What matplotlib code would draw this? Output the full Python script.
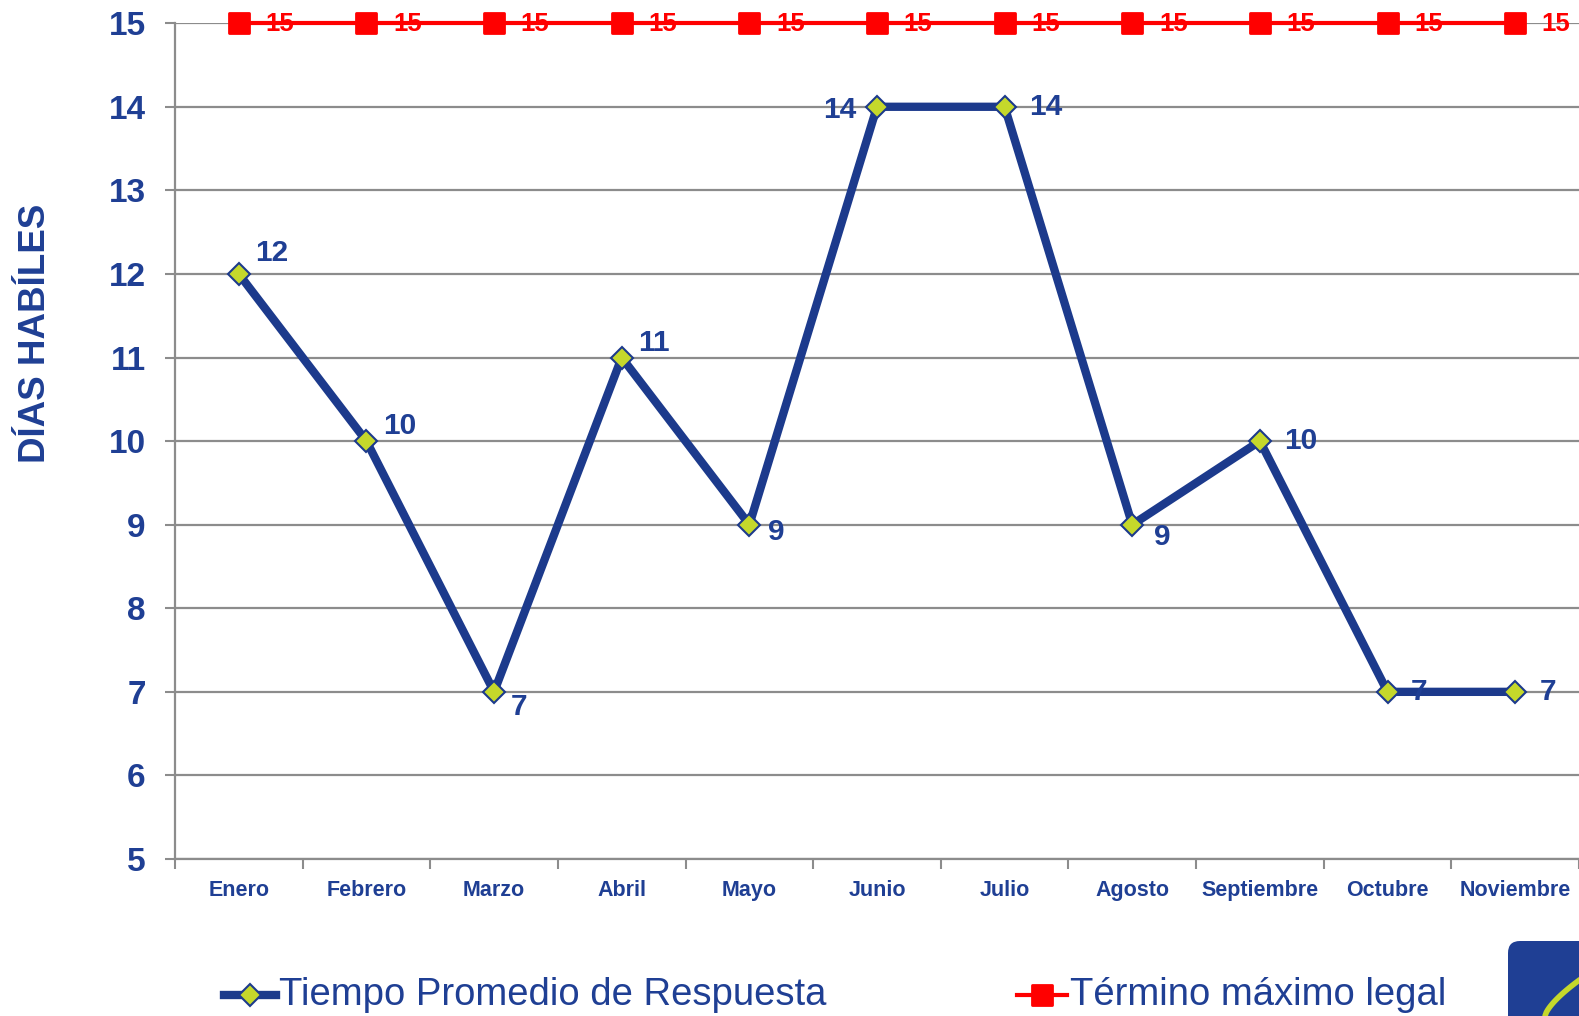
import numpy as np
import matplotlib
matplotlib.use("Agg")
import matplotlib.pyplot as plt
from matplotlib.lines import Line2D
from matplotlib.markers import MarkerStyle
from matplotlib.patches import FancyBboxPatch
from matplotlib.transforms import IdentityTransform

#### data
meses = ["Enero", "Febrero", "Marzo", "Abril", "Mayo", "Junio", "Julio",
         "Agosto", "Septiembre", "Octubre", "Noviembre"]
tiempo_promedio = [12, 10, 7, 11, 9, 14, 14, 9, 10, 7, 7]
termino_legal = [15, 15, 15, 15, 15, 15, 15, 15, 15, 15, 15]
yticks = [5, 6, 7, 8, 9, 10, 11, 12, 13, 14, 15]

# label offsets in pixels (dx, dy) for the blue series
lbl_off = [(33, 21), (33, 15), (25, -15), (32, 15), (27, -7), (-37, -3),
           (41, 0), (30, -12), (41, 0), (32, 0), (33, 0)]

BLUE = "#1F3F94"
LINE_BLUE = "#1C3A8C"
GREEN = "#C5D82B"
RED = "#FF0000"
GRAY = "#8C8C8C"

plt.rcParams['font.family'] = ["Liberation Sans", "DejaVu Sans"]

W, H = 1579, 1016
fig = plt.figure(figsize=(W/100, H/100), dpi=100)
fig.patch.set_facecolor("white")
ax = fig.add_axes([175/W, 1 - 859/H, 1 - 175/W, (859 - 23.2)/H])

x = np.arange(len(meses))

# red legal line
sq = MarkerStyle("s", joinstyle="round")
ax.plot(x, termino_legal, color=RED, lw=3, marker=sq, ms=14.5, mfc=RED, mec=RED,
        mew=2, zorder=4, clip_on=False)
for xi, v in zip(x, termino_legal):
    ax.annotate(str(v), (xi, v), xytext=(41, -1), textcoords="offset pixels",
                ha="center", va="center", color=RED, fontsize=18.5, fontweight="bold",
                zorder=6, annotation_clip=False)

# blue average line
ax.plot(x, tiempo_promedio, color=LINE_BLUE, lw=6, marker="D", ms=11,
        mfc=GREEN, mec=LINE_BLUE, mew=1.5, zorder=5, clip_on=False)
for xi, v, (dx, dy) in zip(x, tiempo_promedio, lbl_off):
    ax.annotate(str(v), (xi, v), xytext=(dx, dy), textcoords="offset pixels",
                ha="center", va="center", color=BLUE, fontsize=21.5, fontweight="bold",
                zorder=6)

ax.set_xlim(-0.5, 10.47)
ax.set_ylim(5, 15)
ax.set_yticks(yticks)
ax.set_yticklabels([str(t) for t in yticks])
ax.set_xticks(x)
ax.set_xticklabels(meses)
ax.set_xticks(np.arange(-0.5, 11, 1.0), minor=True)

ax.tick_params(axis="y", length=7, width=1.5, color=GRAY, pad=14,
               labelsize=24, labelcolor=BLUE)
ax.tick_params(axis="x", which="major", length=0, pad=15, labelsize=15.5, labelcolor=BLUE)
ax.tick_params(axis="x", which="minor", length=7, width=1.5, color=GRAY)
for lab in ax.get_yticklabels() + ax.get_xticklabels():
    lab.set_fontweight("bold")

ax.grid(axis="y", color=GRAY, lw=1.6, zorder=1)
ax.set_axisbelow(True)
for s in ["top", "right"]:
    ax.spines[s].set_visible(False)
for s in ["left", "bottom"]:
    ax.spines[s].set_color(GRAY)
    ax.spines[s].set_linewidth(1.6)

fig.text(36/W, 1 - 333/H, "DÍAS HABÍLES", rotation=90, ha="center", va="center",
         color=BLUE, fontsize=26.5, fontweight="bold")

# legend drawn by hand
ly = 1 - 995/H
fig.add_artist(Line2D([224/W, 276/W], [ly, ly], color=LINE_BLUE, lw=6))
fig.add_artist(Line2D([250/W], [ly], color=LINE_BLUE, marker="D", ms=11, mfc=GREEN,
                      mec=LINE_BLUE, mew=1.5, lw=0))
fig.text(279/W, ly, "Tiempo Promedio de Respuesta", ha="left", va="center",
         color=BLUE, fontsize=27.5)
fig.add_artist(Line2D([1017/W, 1067/W], [ly, ly], color=RED, lw=3))
fig.add_artist(Line2D([1042/W], [ly], marker=sq, ms=14.5, mfc=RED, mec=RED, mew=2, lw=0))
fig.text(1070/W, ly, "Término máximo legal", ha="left", va="center",
         color=BLUE, fontsize=27.5)

# corner logo fragment
logo = FancyBboxPatch((1508, -40), 120, 115, boxstyle="round,pad=0,rounding_size=12",
                      transform=IdentityTransform(), facecolor="#1F3F94", edgecolor="none")
fig.add_artist(logo)
t = np.linspace(0, 1, 30)
fig.add_artist(Line2D(1545 + 40*t, 0 + 40*t**0.7, transform=IdentityTransform(),
                      color=GREEN, lw=4, solid_capstyle="round"))

fig.savefig("out.png", dpi=100)
